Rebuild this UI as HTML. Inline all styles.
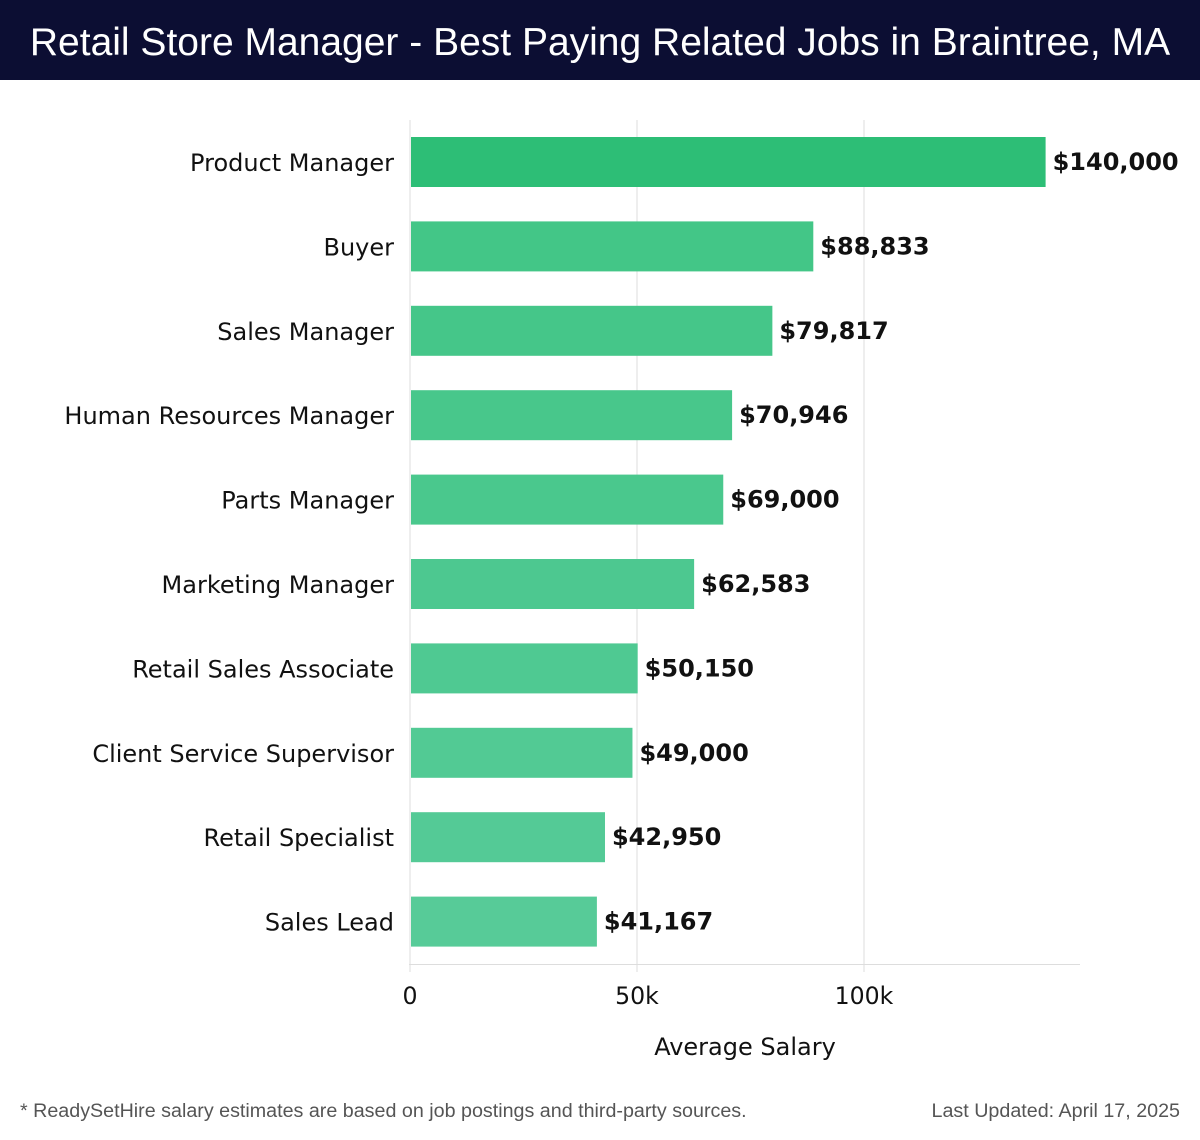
<!DOCTYPE html>
<html><head><meta charset="utf-8"><style>
body{margin:0;background:#fff;width:1200px;height:1140px;overflow:hidden;font-family:"DejaVu Sans","Liberation Sans",sans-serif}
#hdr{position:absolute;left:0;top:0;width:1200px;height:80px;background:#0c0e33;color:#fff;font-size:39px;line-height:86px;text-align:center;font-family:"Liberation Sans","DejaVu Sans",sans-serif}
.foot{position:absolute;top:1100px;font-size:19.7px;color:#555;font-family:"Liberation Sans",sans-serif}
</style></head><body>
<div id="hdr">Retail Store Manager - Best Paying Related Jobs in Braintree, MA</div>
<svg id="c" width="1200" height="1140" style="position:absolute;left:0;top:0"></svg>
<div class="foot" style="left:20px">* ReadySetHire salary estimates are based on job postings and third-party sources.</div>
<div class="foot" style="right:20px">Last Updated: April 17, 2025</div>
<script>
const categories=["Product Manager","Buyer","Sales Manager","Human Resources Manager","Parts Manager","Marketing Manager","Retail Sales Associate","Client Service Supervisor","Retail Specialist","Sales Lead"];
const values=[140000,88833,79817,70946,69000,62583,50150,49000,42950,41167];
const valueLabels=["$140,000","$88,833","$79,817","$70,946","$69,000","$62,583","$50,150","$49,000","$42,950","$41,167"];
const ticks=[0,50000,100000];
const tickLabels=["0","50k","100k"];
const NS="http://www.w3.org/2000/svg";
const svg=document.getElementById('c');
const x=v=>410+v*(454/100000);
const y0=120,band=84.4,top0=137-y0;
const y=i=>y0+top0+i*band;
function mk(t,a){const e=document.createElementNS(NS,t);for(const k in a)e.setAttribute(k,a[k]);svg.appendChild(e);return e;}
ticks.forEach((t,i)=>{
 const g=mk('line',{x1:x(t),x2:x(t),y1:120,y2:972,stroke:'#ddd','stroke-width':1});
 
 
 const tl=mk('text',{x:x(t),y:1004,'text-anchor':'middle','font-size':23.6,fill:'#111'});
 tl.textContent=tickLabels[i];
 
 
});
const ax=mk('line',{x1:409,x2:1080,y1:964.5,y2:964.5,stroke:'#ddd'});


const at=mk('text',{x:745,y:1055,'text-anchor':'middle','font-size':24,fill:'#111'});
at.textContent='Average Salary';


const c1=[87,203,152];
values.forEach((v,i)=>{
 const f=i/(values.length-1);
 const col=i==0?'rgb(45,190,118)':`rgb(${Math.round(64+(c1[0]-64)*f)},${Math.round(197+(c1[1]-197)*f)},${Math.round(133+(c1[2]-133)*f)})`;
 const r=mk('rect',{x:x(0)+1,y:y(i),width:x(v)-x(0)-1,height:50,fill:col});
 
 
 const l=mk('text',{x:394,y:y(i)+34,'text-anchor':'end','font-size':24,fill:'#111'});
 l.textContent=categories[i];
 
 
 const vl=mk('text',{x:x(v)+7,y:y(i)+33,'font-size':24,'font-weight':'bold',fill:'#111'});
 vl.textContent=valueLabels[i];
 
 
});
</script>
</body></html>
